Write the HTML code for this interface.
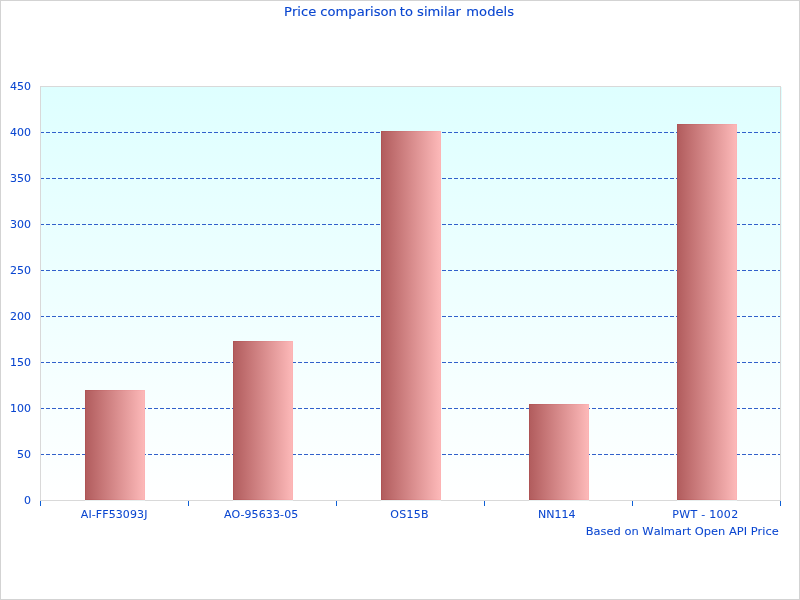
<!DOCTYPE html>
<html>
<head>
<meta charset="utf-8">
<title>Price comparison to similar models</title>
<style>
html,body{margin:0;padding:0;background:#fff;}
body{width:800px;height:600px;position:relative;overflow:hidden;font-family:"DejaVu Sans","Liberation Sans",sans-serif;color:#0a46d0;-webkit-text-stroke:0.12px #0a46d0;font-kerning:none;}
.frame{position:absolute;left:0;top:0;width:798px;height:598px;border:1px solid #d3d3d3;}
.plot{position:absolute;left:41px;top:87px;width:741px;height:414px;background:linear-gradient(to bottom,#deffff 0%,#ffffff 100%);}
.pb{position:absolute;left:40px;top:86px;width:739px;height:413px;border:1px solid #d9d9d9;}
.grid{position:absolute;left:40px;width:741px;height:1px;background:repeating-linear-gradient(to right,#3161cb 0,#3161cb 4px,transparent 4px,transparent 6px);}
.bar{position:absolute;width:60px;background:linear-gradient(to right,#ad5354 0%,#fdb4b5 100%);}
.bar::after{content:"";position:absolute;left:1px;top:1px;right:1px;bottom:1px;background:linear-gradient(to right,#b25d5e 0%,#fcb8b8 100%);}
.under{position:absolute;top:500px;width:60px;height:1px;background:#e8eeee;}
.tick{position:absolute;top:501px;width:1px;height:5px;background:#0e60d5;}
.yl{-webkit-text-stroke-width:0.04px;position:absolute;left:0;margin-top:1px;width:31px;text-align:right;font-size:11px;line-height:14px;height:14px;white-space:nowrap;}
.xl{-webkit-text-stroke-width:0.04px;position:absolute;top:508px;width:148px;text-align:center;font-size:11px;line-height:14px;height:14px;white-space:nowrap;}
.title{position:absolute;left:0;top:4px;width:798px;text-align:center;font-size:13.1px;line-height:16px;white-space:nowrap;}
.note{-webkit-text-stroke-width:0.04px;position:absolute;right:21.3px;top:525px;font-size:11px;transform:scaleX(1.039);transform-origin:100% 50%;line-height:14px;white-space:nowrap;}
</style>
</head>
<body>
<div class="plot"></div>
<div class="grid" style="top:132px"></div>
<div class="grid" style="top:178px"></div>
<div class="grid" style="top:224px"></div>
<div class="grid" style="top:270px"></div>
<div class="grid" style="top:316px"></div>
<div class="grid" style="top:362px"></div>
<div class="grid" style="top:408px"></div>
<div class="grid" style="top:454px"></div>
<div class="pb"></div>
<div class="bar" style="left:85px;top:390px;height:110px"></div>
<div class="bar" style="left:233px;top:341px;height:159px"></div>
<div class="bar" style="left:381px;top:131px;height:369px"></div>
<div class="bar" style="left:529px;top:404px;height:96px"></div>
<div class="bar" style="left:677px;top:124px;height:376px"></div>
<div class="under" style="left:85px"></div>
<div class="under" style="left:233px"></div>
<div class="under" style="left:381px"></div>
<div class="under" style="left:529px"></div>
<div class="under" style="left:677px"></div>
<div class="tick" style="left:40px"></div>
<div class="tick" style="left:188px"></div>
<div class="tick" style="left:336px"></div>
<div class="tick" style="left:484px"></div>
<div class="tick" style="left:632px"></div>
<div class="tick" style="left:780px"></div>
<div class="yl" style="top:79px">450</div>
<div class="yl" style="top:125px">400</div>
<div class="yl" style="top:171px">350</div>
<div class="yl" style="top:217px">300</div>
<div class="yl" style="top:263px">250</div>
<div class="yl" style="top:309px">200</div>
<div class="yl" style="top:355px">150</div>
<div class="yl" style="top:401px">100</div>
<div class="yl" style="top:447px">50</div>
<div class="yl" style="top:493px">0</div>
<div class="xl" style="left:40.15px;letter-spacing:0.1px">AI-FF53093J</div>
<div class="xl" style="left:187.2px;letter-spacing:0.12px">AO-95633-05</div>
<div class="xl" style="left:335.6px;letter-spacing:0.29px">OS15B</div>
<div class="xl" style="left:482.8px;letter-spacing:0.07px">NN114</div>
<div class="xl" style="left:631.4px;letter-spacing:0.29px">PWT - 1002</div>
<div class="title">Price comparison <span style="position:relative;left:-1.2px">to similar</span> models</div>
<div class="note">Based on Walmart Open API Price</div>
<div class="frame"></div>
</body>
</html>
